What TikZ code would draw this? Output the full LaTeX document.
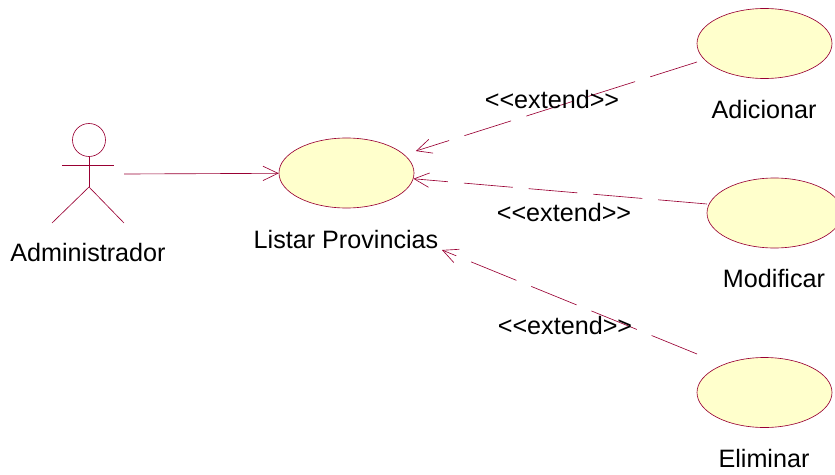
\documentclass[tikz,border=0pt]{standalone}
\usepackage{fontspec}
\setmainfont{Liberation Sans}[Ligatures=TeXOff]
\usetikzlibrary{arrows.meta,shapes.geometric}
\definecolor{umlline}{RGB}{153,0,51}
\definecolor{umlfill}{RGB}{255,255,204}
\tikzset{
  usecase/.style={ellipse, draw=umlline, fill=umlfill, line width=0.016cm,
    minimum width=3.375cm, minimum height=1.75cm, inner sep=0pt},
  actorline/.style={draw=umlline, line width=0.016cm},
  assoc/.style={draw=umlline, line width=0.016cm,
    -{Straight Barb[length=0.375cm,width=0.36cm]}},
  extendline/.style={assoc, dash pattern=on 1.225cm off 0.4cm},
  caption/.style={inner sep=0pt}
}
\begin{document}
\begin{tikzpicture}
            \useasboundingbox (0.000000,0.000000) rectangle (20.875000,11.850000);
            {\fontsize{17.9}{21}\selectfont

            % Drawing actor Administrador
            \draw [actorline] (2.225000,8.350000) circle (0.412500);%
            \draw [actorline] (2.225000,7.937500) -- (2.225000,7.175000);%
            \draw [actorline] (1.550000,7.725000) -- (2.850000,7.725000);%
            \draw [actorline] (1.300000,6.275000) -- (2.225000,7.175000) -- (3.100000,6.275000);%
            \node [caption] (admin) at (2.200000,5.525000) {Administrador};%
            \coordinate (adminhand) at (3.100000,7.500000);%

            % Marking use case Listar Provincias
            \node [usecase] (listar) at (8.662500,7.525000) {};%
            \node [caption] (listarlabel) at (8.650000,5.850000) {Listar Provincias};%

            % Marking use case Adicionar
            \node [usecase] (adicionar) at (19.112500,10.762500) {};%
            \node [caption] (adicionarlabel) at (19.100000,9.100000) {Adicionar};%
            \coordinate (adicionarfoot) at (17.425000,10.300000);%

            % Marking use case Modificar
            \node [usecase] (modificar) at (19.362500,6.525000) {};%
            \node [caption] (modificarlabel) at (19.350000,4.875000) {Modificar};%
            \coordinate (modificarfoot) at (17.675000,6.750000);%

            % Marking use case Eliminar
            \node [usecase] (eliminar) at (19.112500,2.037500) {};%
            \node [caption] (eliminarlabel) at (19.100000,0.400000) {Eliminar};%
            \coordinate (eliminarfoot) at (17.425000,3.000000);%
            \coordinate (eliminartip) at (11.050000,5.600000);%

            % Drawing association
            \draw [assoc] (adminhand) -- (listar);%

            % Drawing extend relations
            \draw [extendline, shorten >=0.3cm] (adicionarfoot) -- (listar);%
            \draw [extendline] (modificarfoot) -- (listar);%
            \draw [extendline] (eliminarfoot) -- (eliminartip);%
            \node [caption] (extadicionar) at (13.800000,9.350000) {<<extend>>};%
            \node [caption] (extmodificar) at (14.100000,6.525000) {<<extend>>};%
            \node [caption] (exteliminar) at (14.125000,3.725000) {<<extend>>};%
            }
        \end{tikzpicture}
\end{document}
